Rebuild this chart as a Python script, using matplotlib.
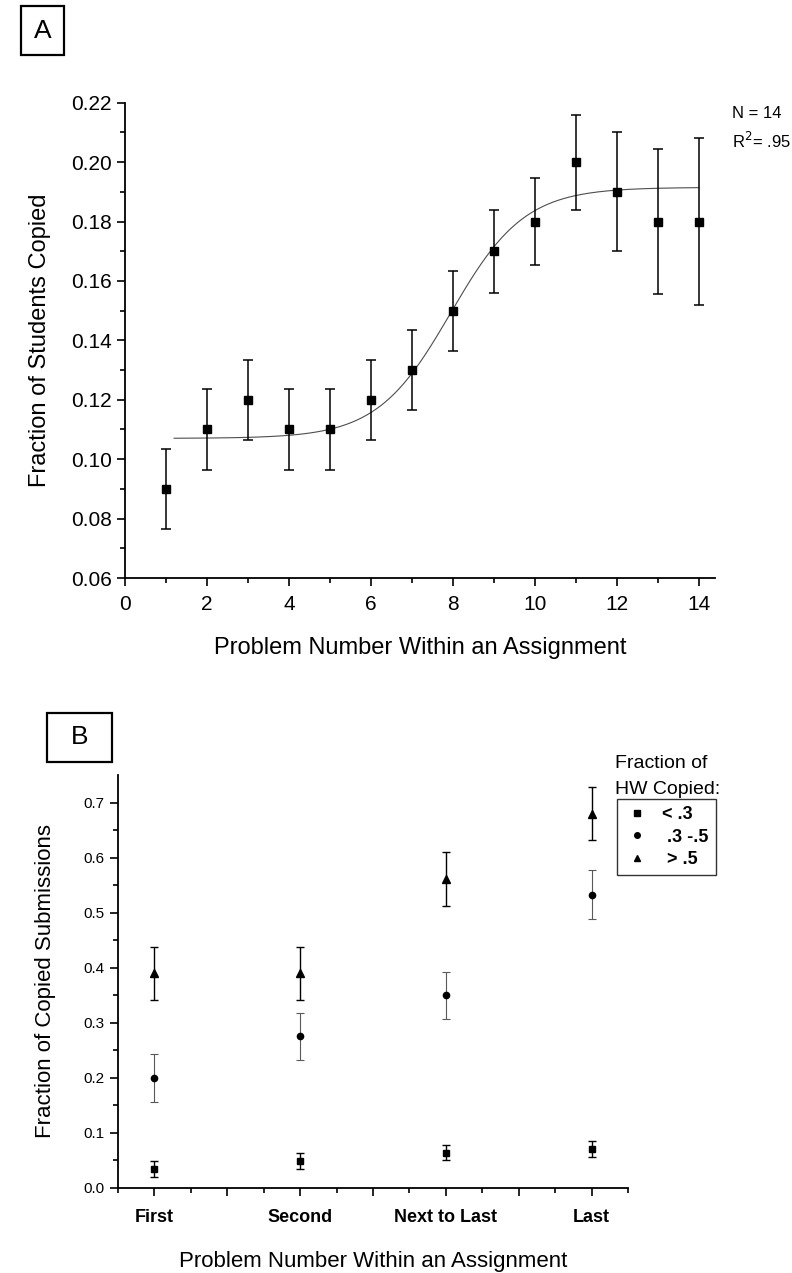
import numpy as np
import matplotlib
matplotlib.use("Agg")
import matplotlib.pyplot as plt
from matplotlib.patches import Rectangle
from matplotlib.lines import Line2D

plt.rcParams['font.family'] = ['Liberation Sans', 'DejaVu Sans']

# Panel A data
prob_num = [1, 2, 3, 4, 5, 6, 7, 8, 9, 10, 11, 12, 13, 14]
frac_copied = [0.09, 0.11, 0.12, 0.11, 0.11, 0.12, 0.13, 0.15, 0.17, 0.18, 0.20, 0.19, 0.18, 0.18]
frac_err = [0.0135, 0.0135, 0.0135, 0.0135, 0.0135, 0.0135, 0.0135, 0.0135,
            0.014, 0.0145, 0.016, 0.02, 0.0245, 0.028]
# sigmoid (Boltzmann) fit parameters
fit_a1, fit_a2, fit_x0, fit_dx = 0.107, 0.1915, 7.95, 0.9
fit_start, fit_end = 1.2, 14.0

# Panel B data
positions = ["First", "Second", "Next to Last", "Last"]
low_vals = [0.034, 0.048, 0.064, 0.070]
low_err = [0.0145, 0.0145, 0.0145, 0.0145]
mid_vals = [0.20, 0.275, 0.35, 0.533]
mid_err = [0.044, 0.043, 0.043, 0.044]
high_vals = [0.39, 0.39, 0.562, 0.68]
high_err = [0.048, 0.048, 0.049, 0.048]
group_labels = ["< .3", " .3 -.5", " > .5"]

W, H = 792, 1273
fig = plt.figure(figsize=(W / 100, H / 100), dpi=100)


def px_axes(left, top, right, bottom):
    return fig.add_axes([left / W, 1 - bottom / H, (right - left) / W, (bottom - top) / H])


def style_axes(ax):
    for s in ['top', 'right']:
        ax.spines[s].set_visible(False)
    for s in ['left', 'bottom']:
        ax.spines[s].set_linewidth(1.3)
    ax.tick_params(which='major', direction='out', length=6, width=1.2)
    ax.tick_params(which='minor', direction='out', length=3.5, width=1.2)


def label_box(x0, y0, x1, y1, txt):
    fig.patches.append(Rectangle((x0 / W, 1 - y1 / H), (x1 - x0) / W, (y1 - y0) / H,
                                 transform=fig.transFigure, fill=False, lw=1.6, ec='black'))
    fig.text((x0 + x1) / 2 / W, 1 - (y0 + y1) / 2 / H, txt, ha='center', va='center', fontsize=19)


# ---------------- Panel A ----------------
axA = px_axes(125, 102.7, 715, 578)
style_axes(axA)
xs = np.linspace(fit_start, fit_end, 300)
fit = fit_a2 + (fit_a1 - fit_a2) / (1 + np.exp((xs - fit_x0) / fit_dx))
axA.plot(xs, fit, color='0.3', lw=0.8)
axA.errorbar(prob_num, frac_copied, yerr=frac_err, fmt='s', color='black', ms=5.5,
             elinewidth=1.1, capsize=3.5, capthick=1.1)
axA.set_xlim(0, 14.4)
axA.set_ylim(0.06, 0.22)
axA.set_xticks(np.arange(0, 15, 2))
axA.set_xticks(np.arange(1, 15, 2), minor=True)
axA.set_yticks(np.arange(0.06, 0.221, 0.02))
axA.set_yticks(np.arange(0.07, 0.22, 0.02), minor=True)
axA.yaxis.set_major_formatter(matplotlib.ticker.FormatStrFormatter('%.2f'))
axA.tick_params(labelsize=15)
axA.tick_params(axis='x', pad=6)
axA.set_xlabel("Problem Number Within an Assignment", fontsize=17, labelpad=17)
axA.set_ylabel("Fraction of Students Copied", fontsize=17, labelpad=14)
fig.text(732 / W, 1 - 113 / H, "N = 14", fontsize=12, va='center')
fig.text(732 / W, 1 - 141 / H, "R$^2$= .95", fontsize=12, va='center')
label_box(21, 6, 64, 55, "A")

# ---------------- Panel B ----------------
axB = px_axes(118, 775.2, 628, 1187.7)
style_axes(axB)
xpos = np.arange(1, len(positions) + 1)
axB.errorbar(xpos, low_vals, yerr=low_err, fmt='s', color='black', ms=4.5,
             elinewidth=1.0, capsize=3, capthick=1.0)
axB.errorbar(xpos, mid_vals, yerr=mid_err, fmt='o', color='black', ms=4.5,
             ecolor='0.35', elinewidth=0.8, capsize=3, capthick=0.8)
axB.errorbar(xpos, high_vals, yerr=high_err, fmt='^', color='black', ms=5.5,
             elinewidth=1.0, capsize=3, capthick=1.0)
axB.set_xlim(0.75, 4.25)
axB.set_ylim(0, 0.75)
axB.set_xticks(np.arange(1, 4.01, 0.5))
tick_text = []
for p in positions:
    tick_text += [p, ""]
axB.set_xticklabels(tick_text[:-1], fontsize=13, fontweight='bold')
axB.set_xticks(np.arange(0.75, 4.26, 0.5), minor=True)
axB.set_yticks(np.arange(0, 0.71, 0.1))
axB.set_yticks(np.arange(0.05, 0.75, 0.1), minor=True)
axB.yaxis.set_major_formatter(matplotlib.ticker.FormatStrFormatter('%.1f'))
axB.tick_params(axis='y', labelsize=11)
axB.tick_params(axis='x', pad=9)
axB.set_xlabel("Problem Number Within an Assignment", fontsize=16, labelpad=18)
axB.set_ylabel("Fraction of Copied Submissions", fontsize=16, labelpad=20)

fig.text(615 / W, 1 - 763 / H, "Fraction of", fontsize=14, va='center')
fig.text(615 / W, 1 - 790 / H, "HW Copied:", fontsize=14, va='center')
handles = [Line2D([], [], ls='none', marker=m, color='black', ms=s)
           for m, s in zip(['s', 'o', '^'], [4, 4, 5])]
leg = fig.legend(handles, group_labels, loc='upper left',
                 bbox_to_anchor=(617 / W, 1 - 799 / H), frameon=True, fancybox=False,
                 edgecolor='black', prop={'size': 13, 'weight': 'bold'},
                 handlelength=1.4, handletextpad=0.7, borderpad=0.4, labelspacing=0.3,
                 borderaxespad=0)
leg.get_frame().set_linewidth(1.0)
label_box(47, 713, 112, 762, "B")

fig.savefig("out.png", dpi=100)
